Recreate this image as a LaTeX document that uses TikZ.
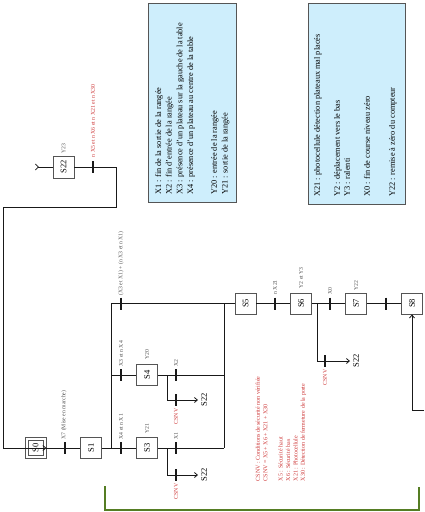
\documentclass[tikz,border=0pt]{standalone}
\usepackage{fontspec}
\setmainfont{Liberation Serif}
\usetikzlibrary{arrows.meta}
\definecolor{lineC}{RGB}{25,25,25}
\definecolor{boxC}{RGB}{85,85,85}
\definecolor{labC}{RGB}{80,80,80}
\definecolor{redC}{RGB}{205,55,55}
\definecolor{greenC}{RGB}{85,125,35}
\definecolor{legC}{RGB}{206,238,252}
\begin{document}
\begin{tikzpicture}[x=1pt,y=-1pt,
  stepbox/.style={draw=boxC, fill=white, line width=0.8pt, minimum width=21pt, minimum height=21pt, inner sep=0pt, rotate=90, font=\fontsize{8.5}{9}\selectfont},
  conn/.style={draw=lineC, line width=0.8pt},
  trbar/.style={draw=lineC, line width=1.1pt},
  tlab/.style={rotate=90, anchor=west, inner sep=0.5pt, text=labC, font=\fontsize{5.7}{6}\selectfont},
  rlab/.style={rotate=90, inner sep=0.5pt, text=redC, font=\fontsize{5.8}{6}\selectfont},
  tgt/.style={rotate=90, anchor=north, inner sep=1pt, font=\fontsize{8.5}{9}\selectfont},
  legend/.style={draw=boxC, fill=legC, line width=0.8pt},
  legtext/.style={rotate=90, anchor=north west, align=left, inner sep=0pt, font=\fontsize{8.3}{10.7}\selectfont},
  arr/.style={-{Straight Barb[length=3pt,width=5pt]}}
]
\useasboundingbox (0,0) rectangle (424,512);

% legend boxes
\draw[legend] (148,3) rectangle (236,202);
\node[legtext] (L1) at (155,195) {X1 : fin de la sortie de la rangée\\
X2 : fin d'entrée de la rangée\\
X3 : présence d'un plateau sur la gauche de la table\\
X4 : présence d'un plateau au centre de la table\\[13pt]
Y20 : entrée de la rangée\\
Y21 : sortie de la rangée};
\draw[legend] (308,3) rectangle (405,204);
\node[legtext, font=\fontsize{8.3}{10}\selectfont] (L2) at (314,197) {X21 : photocellule détection plateaux mal placés\\[10pt]
Y2 : déplacement vers le bas\\
Y3 : ralenti\\[10pt]
X0 : fin de course niveau zéro\\[15pt]
Y22 : remise à zéro du compteur};

% red notes
\node[rlab, anchor=north west, align=left, font=\fontsize{6}{7.4}\selectfont] (notes) at (255,482) {CSNV : Conditions de sécurité non vérifiée\\
CSNV = X5 + X6 + X21 + X30\\[8pt]
X5 : Sécurité haut\\
X6 : Sécurité bas\\
X21 : Photocellule\\
X30 : Détection de fermeture de la porte};

% steps
\node[stepbox] (S0) at (35.5,448) {};
\node[draw=boxC, line width=0.8pt, minimum width=15pt, minimum height=15pt, inner sep=0pt, rotate=90, font=\fontsize{8.5}{9}\selectfont] (S0i) at (S0) {S0};
\node[stepbox] (S1) at (91,448) {S1};
\node[stepbox] (S3) at (147,448) {S3};
\node[stepbox] (S4) at (147,375) {S4};
\node[stepbox] (S5) at (245.5,303.5) {S5};
\node[stepbox] (S6) at (301,303.5) {S6};
\node[stepbox] (S7) at (356,303.5) {S7};
\node[stepbox] (S8) at (412,303.5) {S8};
\node[stepbox, minimum width=22pt] (S22) at (63.5,167) {S22};

% junction coordinates
\coordinate (dA) at (111,448);
\coordinate (dB) at (111,375);
\coordinate (dC) at (111,303.5);
\coordinate (cA) at (224,448);
\coordinate (cB) at (224,375);
\coordinate (cC) at (224,303.5);
\coordinate (e3) at (167,448);
\coordinate (e3b) at (167,475);
\coordinate (x3) at (198,475);
\coordinate (e4) at (167,375);
\coordinate (e4b) at (167,400);
\coordinate (x4) at (198,400);
\coordinate (e6) at (317,303.5);
\coordinate (e6b) at (317,361);
\coordinate (x6) at (350,361);
\coordinate (r1) at (116,167);
\coordinate (r2) at (116,207);
\coordinate (r3) at (3,207);
\coordinate (r4) at (3,448);
\coordinate (s22in) at (35,167);
\coordinate (b1) at (424,410);
\coordinate (b2) at (412,410);

% connectors
\draw[conn] (S0) -- (S1);
\draw[conn] (S1) -- (dA);
\draw[conn] (dC) -- (dA);
\draw[conn] (dA) -- (S3);
\draw[conn] (dB) -- (S4);
\draw[conn] (dC) -- (S5);
\draw[conn] (S3) -- (cA);
\draw[conn] (S4) -- (cB);
\draw[conn] (cC) -- (cA);
\draw[conn, arr] (e3) -- (e3b) -- (x3);
\draw[conn, arr] (e4) -- (e4b) -- (x4);
\draw[conn] (S5) -- (S6);
\draw[conn] (S6) -- (S7);
\draw[conn] (S7) -- (S8);
\draw[conn, arr] (e6) -- (e6b) -- (x6);
\draw[conn, arr] (b1) -- (b2) -- (S8.west);
\draw[conn, arr] (S22) -- (r1) -- (r2) -- (r3) -- (r4) -- (S0.south);
\draw[conn, {Straight Barb[length=3pt,width=6pt,reversed]}-] (s22in) -- (S22.north);

% transitions
\foreach \n/\x/\y in {t1/65/448, t2/121/448, t3/121/375, t4/121/303.5, t5/176/448, t6/176/375, t7/176/475, t8/176/400, t9/275/303.5, t10/330/303.5, t11/325/361, t12/386/303.5, t13/93/167}{
  \coordinate (\n) at (\x,\y);
  \draw[trbar] ([yshift=6pt]\n) -- ([yshift=-6pt]\n);
}

% transition labels
\node[tlab] at (64,440) {X7 (Mise en marche)};
\node[tlab] at (121,440) {X4 et n X1};
\node[tlab] at (121,367) {X3 et n X4};
\node[tlab] at (121,296) {(X3 et X1) + (n X3 et n X1)};
\node[tlab] at (176,440) {X1};
\node[tlab] at (176,367) {X2};
\node[tlab] at (275,295) {n X21};
\node[tlab] at (330,295) {X0};
\node[rlab, anchor=west] at (93,158) {n X5 et n X6 et n X21 et n X30};
\node[rlab, anchor=east] at (176,483) {CSNV};
\node[rlab, anchor=east] at (176,408) {CSNV};
\node[rlab, anchor=east] at (325,369) {CSNV};

% action labels
\node[tlab] at (147,434) {Y21};
\node[tlab] at (147,360) {Y20};
\node[tlab] at (356,291) {Y22};
\node[tlab] at (301,289) {Y2 et Y3};
\node[tlab] at (63.5,154) {Y23};

% targets
\node[tgt] at (200,475) {S22};
\node[tgt] at (200,400) {S22};
\node[tgt] at (352,361) {S22};

% green bracket
\draw[draw=greenC, line width=1.5pt] (105,486) -- (105,510) -- (419,510) -- (419,487);
\end{tikzpicture}
\end{document}
